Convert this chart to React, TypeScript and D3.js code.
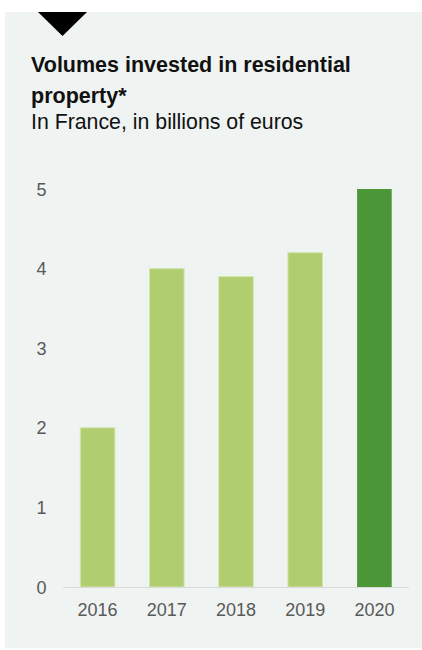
import React from "react";
import * as d3 from "d3";

const years = ["2016", "2017", "2018", "2019", "2020"];
const volumes = [2.0, 4.0, 3.9, 4.2, 5.0];
const yTicks = [0, 1, 2, 3, 4, 5];
const title1 = "Volumes invested in residential";
const title2 = "property*";
const subtitle = "In France, in billions of euros";

export default function App() {
  const W = 422, H = 650;
  const x = d3.scaleBand().domain(years).range([63, 409]).paddingInner(0.5).paddingOuter(0.25);
  const y = d3.scaleLinear().domain([0, 5]).range([587, 189]);
  const font = "'Liberation Sans', Arial, sans-serif";
  const tri = d3.path();
  tri.moveTo(38, 12); tri.lineTo(87, 12); tri.lineTo(62.5, 36); tri.closePath();
  return (
    <svg width={W} height={H} style={{ position: "absolute", left: 0, top: 0 }}>
      <rect x={5} y={12} width={417} height={636} fill="#eff3f2" />
      <path d={tri.toString()} fill="#000" />
      <text x={31} y={72} fontFamily={font} fontWeight="bold" fontSize={21.5} fill="#111">{title1}</text>
      <text x={31} y={103} fontFamily={font} fontWeight="bold" fontSize={21.5} fill="#111">{title2}</text>
      <text x={31} y={129} fontFamily={font} fontSize={21.3} fill="#111">{subtitle}</text>
      {yTicks.map((t) => (
        <text key={t} x={46.5} y={y(t) + 6.5} textAnchor="end" fontFamily={font} fontSize={18} fill="#595959">{t}</text>
      ))}
      {years.map((yr, i) => (
        <rect key={yr} x={x(yr)} y={y(volumes[i])} width={x.bandwidth()} height={y(0) - y(volumes[i])}
          fill={i === years.length - 1 ? "#4b9636" : "#b0ce6f"}
          stroke={i === years.length - 1 ? "none" : "#d4e6ae"} strokeWidth={1} />
      ))}
      <line x1={63} x2={409} y1={587.5} y2={587.5} stroke="#d9d9d9" strokeWidth={1} />
      {years.map((yr) => (
        <text key={yr} x={(x(yr) as number) + x.bandwidth() / 2} y={616} textAnchor="middle" fontFamily={font} fontSize={18} fill="#595959">{yr}</text>
      ))}
    </svg>
  );
}
